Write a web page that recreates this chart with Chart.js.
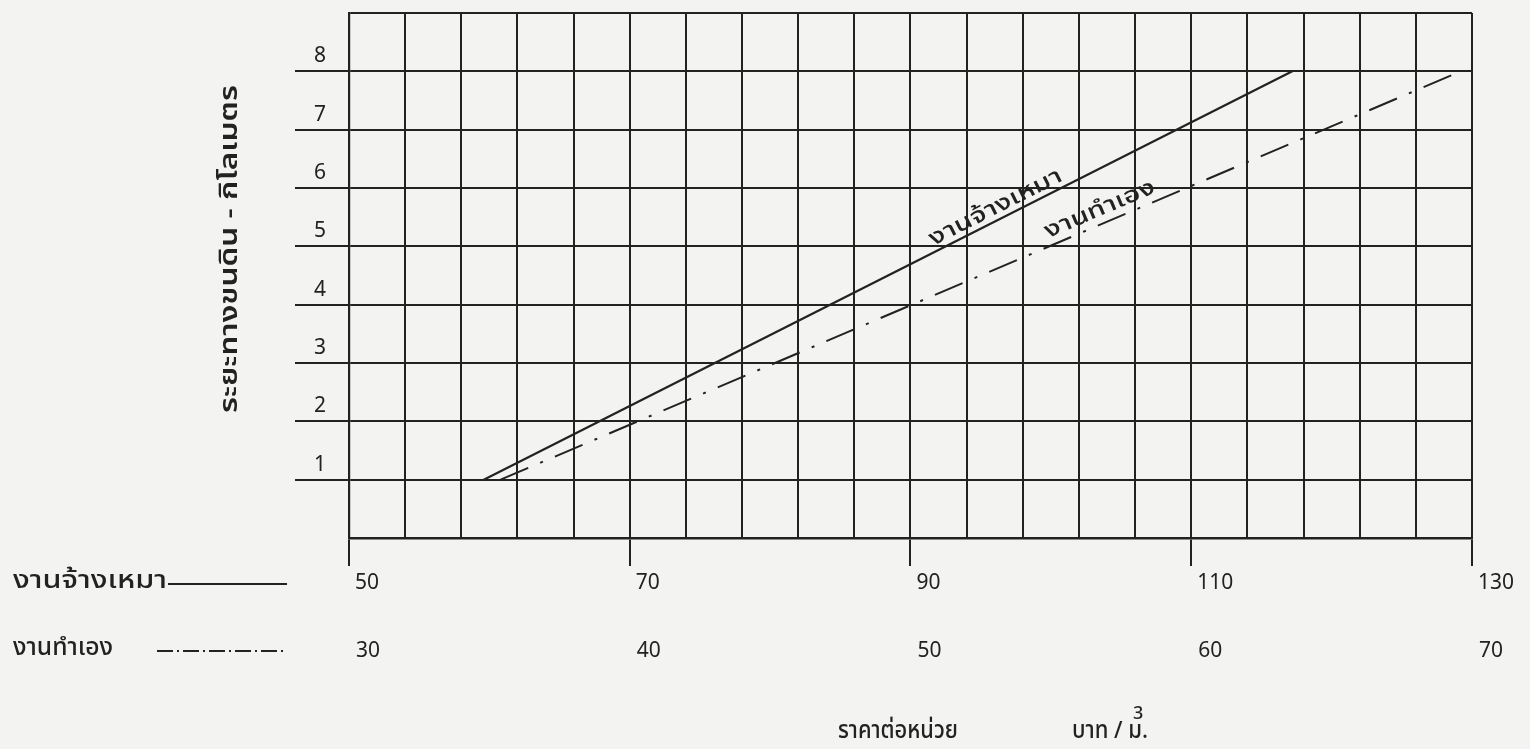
<!DOCTYPE html>
<html>
<head>
<meta charset="utf-8">
<script src="https://cdn.jsdelivr.net/npm/chart.js@4"></script>
<style>
  html, body { margin: 0; padding: 0; background: #f3f3f1; }
  canvas { display: block; }
</style>
</head>
<body>
<canvas id="chart" width="1530" height="749"></canvas>
<script>
// งานจ้างเหมา - price on the upper scale (50..130 baht/m3)
const contractPrice = [59.6, 117.2];
const contractDistance = [1, 8];
// งานทำเอง - price on the lower scale (30..70 baht/m3)
const ownPrice = [35.4, 69.6];
const ownDistance = [1, 8];

const contractTicks = [50, 70, 90, 110, 130];
const ownTicks = [30, 40, 50, 60, 70];
const distanceTicks = [1, 2, 3, 4, 5, 6, 7, 8];

const ink = "#222";
const thaiFont = "'Noto Sans Thai', 'Noto Sans', 'Loma', 'Garuda', sans-serif";
const numFont = "'Noto Sans', sans-serif";

// write text stretched to a given width (the scanned lettering is wide)
function fitText(ctx, text, x, y, width) {
  const w = ctx.measureText(text).width;
  ctx.save();
  ctx.translate(x, y);
  ctx.scale(width / w, 1);
  ctx.fillText(text, 0, 0);
  ctx.restore();
}

// draw a short label along a data line, rotated to its slope
function labelOnLine(ctx, text, sx, sy, xs, ys, t, lift, width) {
  const x0 = sx.getPixelForValue(xs[0]), y0 = sy.getPixelForValue(ys[0]);
  const x1 = sx.getPixelForValue(xs[1]), y1 = sy.getPixelForValue(ys[1]);
  ctx.save();
  ctx.translate(x0 + (x1 - x0) * t, y0 + (y1 - y0) * t);
  ctx.rotate(Math.atan2(y1 - y0, x1 - x0));
  ctx.textBaseline = "alphabetic";
  fitText(ctx, text, -width / 2, -lift, width);
  ctx.restore();
}

const paperText = {
  id: "paperText",
  beforeDraw(chart) {
    const { ctx } = chart;
    ctx.save();
    ctx.fillStyle = "#f3f3f1";
    ctx.fillRect(0, 0, chart.width, chart.height);
    ctx.restore();
  },
  afterDraw(chart) {
    const { ctx, scales } = chart;
    const { x, x2, y } = scales;
    ctx.save();
    ctx.fillStyle = ink;
    ctx.strokeStyle = ink;
    ctx.font = "500 24px " + thaiFont;
    ctx.textBaseline = "middle";
    ctx.textAlign = "left";

    // legend rows, lined up with the two price scales
    const row1 = x.top + 45;
    const row2 = x2.top + 46;
    fitText(ctx, "งานจ้างเหมา", 13, row1, 154);
    ctx.lineWidth = 2;
    ctx.beginPath();
    ctx.moveTo(168, row1 + 1);
    ctx.lineTo(287, row1 + 1);
    ctx.stroke();
    fitText(ctx, "งานทำเอง", 13, row2, 100);
    ctx.setLineDash([16, 4, 2, 4]);
    ctx.beginPath();
    ctx.moveTo(157, row2 + 1);
    ctx.lineTo(287, row2 + 1);
    ctx.stroke();
    ctx.setLineDash([]);

    // x title
    fitText(ctx, "ราคาต่อหน่วย", 838, 733, 120);
    fitText(ctx, "บาท / ม.", 1072, 733, 76);
    ctx.font = "500 18px " + numFont;
    ctx.fillText("3", 1133, 714);

    // y title
    ctx.save();
    ctx.font = "600 24px " + thaiFont;
    ctx.translate(232, 413);
    ctx.rotate(-Math.PI / 2);
    fitText(ctx, "ระยะทางขนดิน - กิโลเมตร", 0, 0, 328);
    ctx.restore();

    // labels written along the lines
    ctx.font = "500 22px " + thaiFont;
    labelOnLine(ctx, "งานจ้างเหมา", x, y, contractPrice, contractDistance, 0.64, 6, 146);
    labelOnLine(ctx, "งานทำเอง", x2, y, ownPrice, ownDistance, 0.63, 8, 118);
    ctx.restore();
  }
};

new Chart(document.getElementById("chart"), {
  type: "line",
  data: {
    datasets: [
      {
        label: "งานจ้างเหมา",
        xAxisID: "x",
        data: contractPrice.map((p, i) => ({ x: p, y: contractDistance[i] })),
        borderColor: ink,
        borderWidth: 2.2,
        pointRadius: 0,
      },
      {
        label: "งานทำเอง",
        xAxisID: "x2",
        data: ownPrice.map((p, i) => ({ x: p, y: ownDistance[i] })),
        borderColor: ink,
        borderWidth: 2,
        borderDash: [30, 13, 3, 13],
        pointRadius: 0,
      },
    ],
  },
  options: {
    responsive: false,
    animation: false,
    layout: { padding: { top: 13, right: 51, left: 0, bottom: 0 } },
    plugins: { legend: { display: false }, tooltip: { enabled: false } },
    scales: {
      x: {
        type: "linear",
        position: "bottom",
        weight: 0,
        min: 50,
        max: 130,
        ticks: {
          stepSize: 4,
          autoSkip: false,
          maxRotation: 0,
          align: "start",
          labelOffset: 6,
          padding: 4,
          color: ink,
          font: { family: numFont, size: 21 },
          callback: (v) => (contractTicks.includes(v) ? String(v) : ""),
        },
        grid: {
          color: ink,
          lineWidth: 2,
          tickLength: 28,
          tickWidth: 2,
          tickColor: (c) => (c.tick && contractTicks.includes(c.tick.value) ? ink : "transparent"),
        },
        border: { color: ink, width: 2.5 },
        afterFit: (s) => { s.height = 66; },
      },
      x2: {
        type: "linear",
        position: "bottom",
        weight: 1,
        min: 30,
        max: 70,
        ticks: {
          stepSize: 10,
          autoSkip: false,
          maxRotation: 0,
          align: "start",
          labelOffset: 7,
          padding: 34,
          color: ink,
          font: { family: numFont, size: 21 },
          callback: (v) => (ownTicks.includes(v) ? String(v) : ""),
        },
        grid: { display: false, drawTicks: false },
        border: { display: false },
        afterFit: (s) => { s.height = 145; },
      },
      y: {
        min: 0,
        max: 9,
        ticks: {
          stepSize: 1,
          autoSkip: false,
          padding: -31,
          labelOffset: -15,
          color: ink,
          font: { family: numFont, size: 21 },
          callback: (v) => (distanceTicks.includes(v) ? String(v) : ""),
        },
        grid: {
          color: ink,
          lineWidth: 2,
          tickLength: 54,
          tickWidth: 2,
          tickColor: (c) => (c.tick && distanceTicks.includes(c.tick.value) ? ink : "transparent"),
        },
        border: { color: ink, width: 2.2 },
        afterFit: (s) => { s.width = 349; },
      },
    },
  },
  plugins: [paperText],
});
</script>
</body>
</html>
